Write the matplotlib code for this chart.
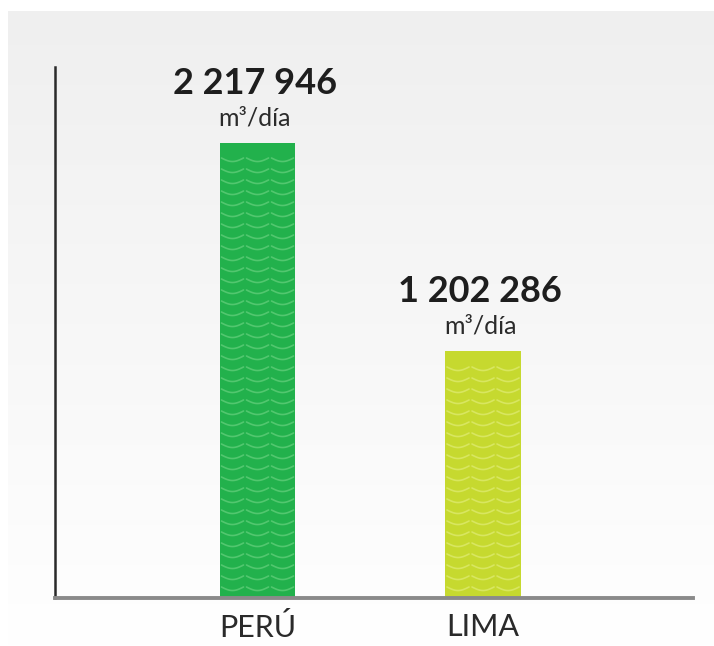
import numpy as np
import matplotlib
matplotlib.use("Agg")
import matplotlib.pyplot as plt

# datos
categorias = ["PERÚ", "LIMA"]
valores = [2217946, 1202286]
etiquetas = ["2 217 946", "1 202 286"]
unidad = "m³/día"
colores = ["#22b14c", "#c6d92f"]
colores_onda = ["#52c76f", "#d8e660"]

W, H = 714, 646
fig = plt.figure(figsize=(W / 100, H / 100), dpi=100)

# fondo degradado gris -> blanco
bg = fig.add_axes([8 / W, 0, 1 - 8 / W, 1 - 11 / H], zorder=-10)
grad = np.linspace(0.938, 1.0, 256).reshape(-1, 1)
bg.imshow(np.dstack([grad, grad, grad]), aspect="auto", extent=[0, 1, 0, 1])
bg.axis("off")

ax = fig.add_axes([55 / W, 1 - 598 / H, (693 - 55) / W, (598 - 67) / H])
ax.patch.set_alpha(0)

x = np.arange(len(categorias))
ancho = 0.333
barras = ax.bar(x, valores, width=ancho, color=colores, zorder=2)

ymax = valores[0] * 531 / 455
ax.set_ylim(0, ymax)
ax.set_xlim(-0.898, 1.931)

# patrón de ondas dentro de cada barra
paso = ymax * 11 / 531
for b, co in zip(barras, colores_onda):
    x0, w, h = b.get_x(), b.get_width(), b.get_height()
    sub = w / 3
    t = np.linspace(0, 1, 20)
    for y in np.arange(paso, h - paso * 0.5, paso):
        for k in range(3):
            xs = x0 + sub * (k + 0.06 + 0.88 * t)
            ys = y - paso * 0.32 * np.sin(np.pi * t)
            ax.plot(xs, ys, color=co, lw=1.2, zorder=3, solid_capstyle="round")

# etiquetas de valores
for b, et in zip(barras, etiquetas):
    cx = b.get_x() + b.get_width() / 2
    ax.annotate(unidad, (cx, b.get_height()), xytext=(-2, 10), textcoords="offset points",
                ha="center", va="bottom", fontsize=18, color="#2b2b2b", family="Lato")
    ax.annotate(et, (cx, b.get_height()), xytext=(-2, 31), textcoords="offset points",
                ha="center", va="bottom", fontsize=26, fontweight="bold", color="#1e1e1e",
                family="Lato")

ax.set_xticks(x)
ax.set_xticklabels(categorias, fontsize=22, color="#2a2a2a", family="Lato")
ax.tick_params(axis="x", length=0, pad=11)
ax.set_yticks([])

for s in ["top", "right"]:
    ax.spines[s].set_visible(False)
ax.spines["left"].set_color("#2a2a2a")
ax.spines["left"].set_linewidth(1.8)
ax.spines["bottom"].set_color("#8a8a8a")
ax.spines["bottom"].set_linewidth(2.8)

fig.savefig("out.png", dpi=100)
